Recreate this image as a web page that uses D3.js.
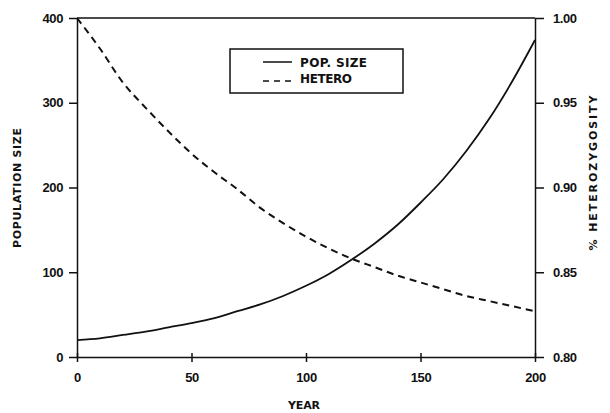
<!DOCTYPE html>
<html lang="en">
<head>
<meta charset="UTF-8">
<title>Population size and heterozygosity</title>
<script src="https://d3js.org/d3.v7.min.js"></script>
<style>
body { margin: 0; background: #fff; }
svg { display: block; font-family: "DejaVu Sans", "Liberation Sans", Arial, sans-serif; }
.tick text { font-size: 13px; font-weight: bold; fill: #111; }
.domain, .tick line { stroke: #111; stroke-width: 1.5; }
.title { font-size: 11px; font-weight: bold; fill: #111; }
.leg { font-size: 12px; font-weight: bold; fill: #111; }
</style>
</head>
<body>
<script>
// values
const years = [0, 10, 20, 30, 40, 50, 60, 70, 80, 90, 100, 110, 120, 130, 140, 150, 160, 170, 180, 190, 200];
const popSize = [20, 22, 26, 30, 35, 40, 46, 54, 62, 72, 84, 98, 115, 134, 156, 182, 210, 243, 281, 325, 374];
const hetero = [1.000, 0.982, 0.962, 0.947, 0.933, 0.920, 0.909, 0.899, 0.888, 0.879, 0.871, 0.864, 0.858, 0.853, 0.848, 0.844, 0.840, 0.836, 0.833, 0.830, 0.827];
const xTicks = [0, 50, 100, 150, 200];
const leftTicks = [0, 100, 200, 300, 400];
const rightTicks = [0.80, 0.85, 0.90, 0.95, 1.00];

const w = 610, h = 413;
const m = { left: 77, right: 75, top: 18, bottom: 56 };

const svg = d3.select('body').append('svg').attr('width', w).attr('height', h);

const x = d3.scaleLinear().domain([0, 200]).range([m.left, w - m.right]);
const yL = d3.scaleLinear().domain([0, 400]).range([h - m.bottom, m.top]);
const yR = d3.scaleLinear().domain([0.80, 1.00]).range([h - m.bottom, m.top]);

// frame top line
svg.append('line')
    .attr('x1', x(0)).attr('x2', x(200))
    .attr('y1', yL(400)).attr('y2', yL(400))
    .attr('stroke', '#111').attr('stroke-width', 1.5);

svg.append('g').attr('transform', 'translate(0,' + (h - m.bottom) + ')')
    .call(d3.axisBottom(x).tickValues(xTicks).tickSizeInner(5).tickSizeOuter(0).tickPadding(11))
    .call(g => g.selectAll('.tick line').attr('y1', -4));

svg.append('g').attr('transform', 'translate(' + m.left + ',0)')
    .call(d3.axisLeft(yL).tickValues(leftTicks).tickSizeInner(8).tickSizeOuter(0).tickPadding(6));

svg.append('g').attr('transform', 'translate(' + (w - m.right) + ',0)')
    .call(d3.axisRight(yR).tickValues(rightTicks).tickFormat(d3.format('.2f')).tickSizeInner(9).tickSizeOuter(0).tickPadding(9));

svg.selectAll('.tick text').attr('letter-spacing', '-0.4');

const rows = years.map((yr, i) => ({ yr: yr, pop: popSize[i], het: hetero[i] }));

svg.append('path').datum(rows)
    .attr('fill', 'none').attr('stroke', '#111').attr('stroke-width', 1.8)
    .attr('d', d3.line().curve(d3.curveMonotoneX).x(d => x(d.yr)).y(d => yL(d.pop)));

svg.append('path').datum(rows)
    .attr('fill', 'none').attr('stroke', '#111').attr('stroke-width', 2)
    .attr('stroke-dasharray', '7,5')
    .attr('d', d3.line().curve(d3.curveMonotoneX).x(d => x(d.yr)).y(d => yR(d.het)));

// legend
const lg = svg.append('g');
lg.append('rect').attr('x', 230).attr('y', 49).attr('width', 173).attr('height', 44)
    .attr('fill', '#fff').attr('stroke', '#111').attr('stroke-width', 1.5);
lg.append('line').attr('x1', 263).attr('x2', 292).attr('y1', 62).attr('y2', 62)
    .attr('stroke', '#111').attr('stroke-width', 1.5);
lg.append('line').attr('x1', 263).attr('x2', 292).attr('y1', 81).attr('y2', 81)
    .attr('stroke', '#111').attr('stroke-width', 1.5).attr('stroke-dasharray', '6,5');
lg.append('text').attr('class', 'leg').attr('x', 300).attr('y', 67).attr('textLength', 67).text('POP. SIZE');
lg.append('text').attr('class', 'leg').attr('x', 300).attr('y', 83).attr('textLength', 52).text('HETERO');

// axis titles
svg.append('text').attr('class', 'title').attr('text-anchor', 'middle')
    .attr('x', 304).attr('y', 409).attr('textLength', 32).text('YEAR');
svg.append('text').attr('class', 'title').attr('text-anchor', 'middle')
    .attr('transform', 'translate(21,188) rotate(-90)').attr('textLength', 120).text('POPULATION SIZE');
svg.append('text').attr('class', 'title').attr('text-anchor', 'middle')
    .attr('transform', 'translate(597,173) rotate(-90)').attr('textLength', 155).text('% HETEROZYGOSITY');
</script>
</body>
</html>
